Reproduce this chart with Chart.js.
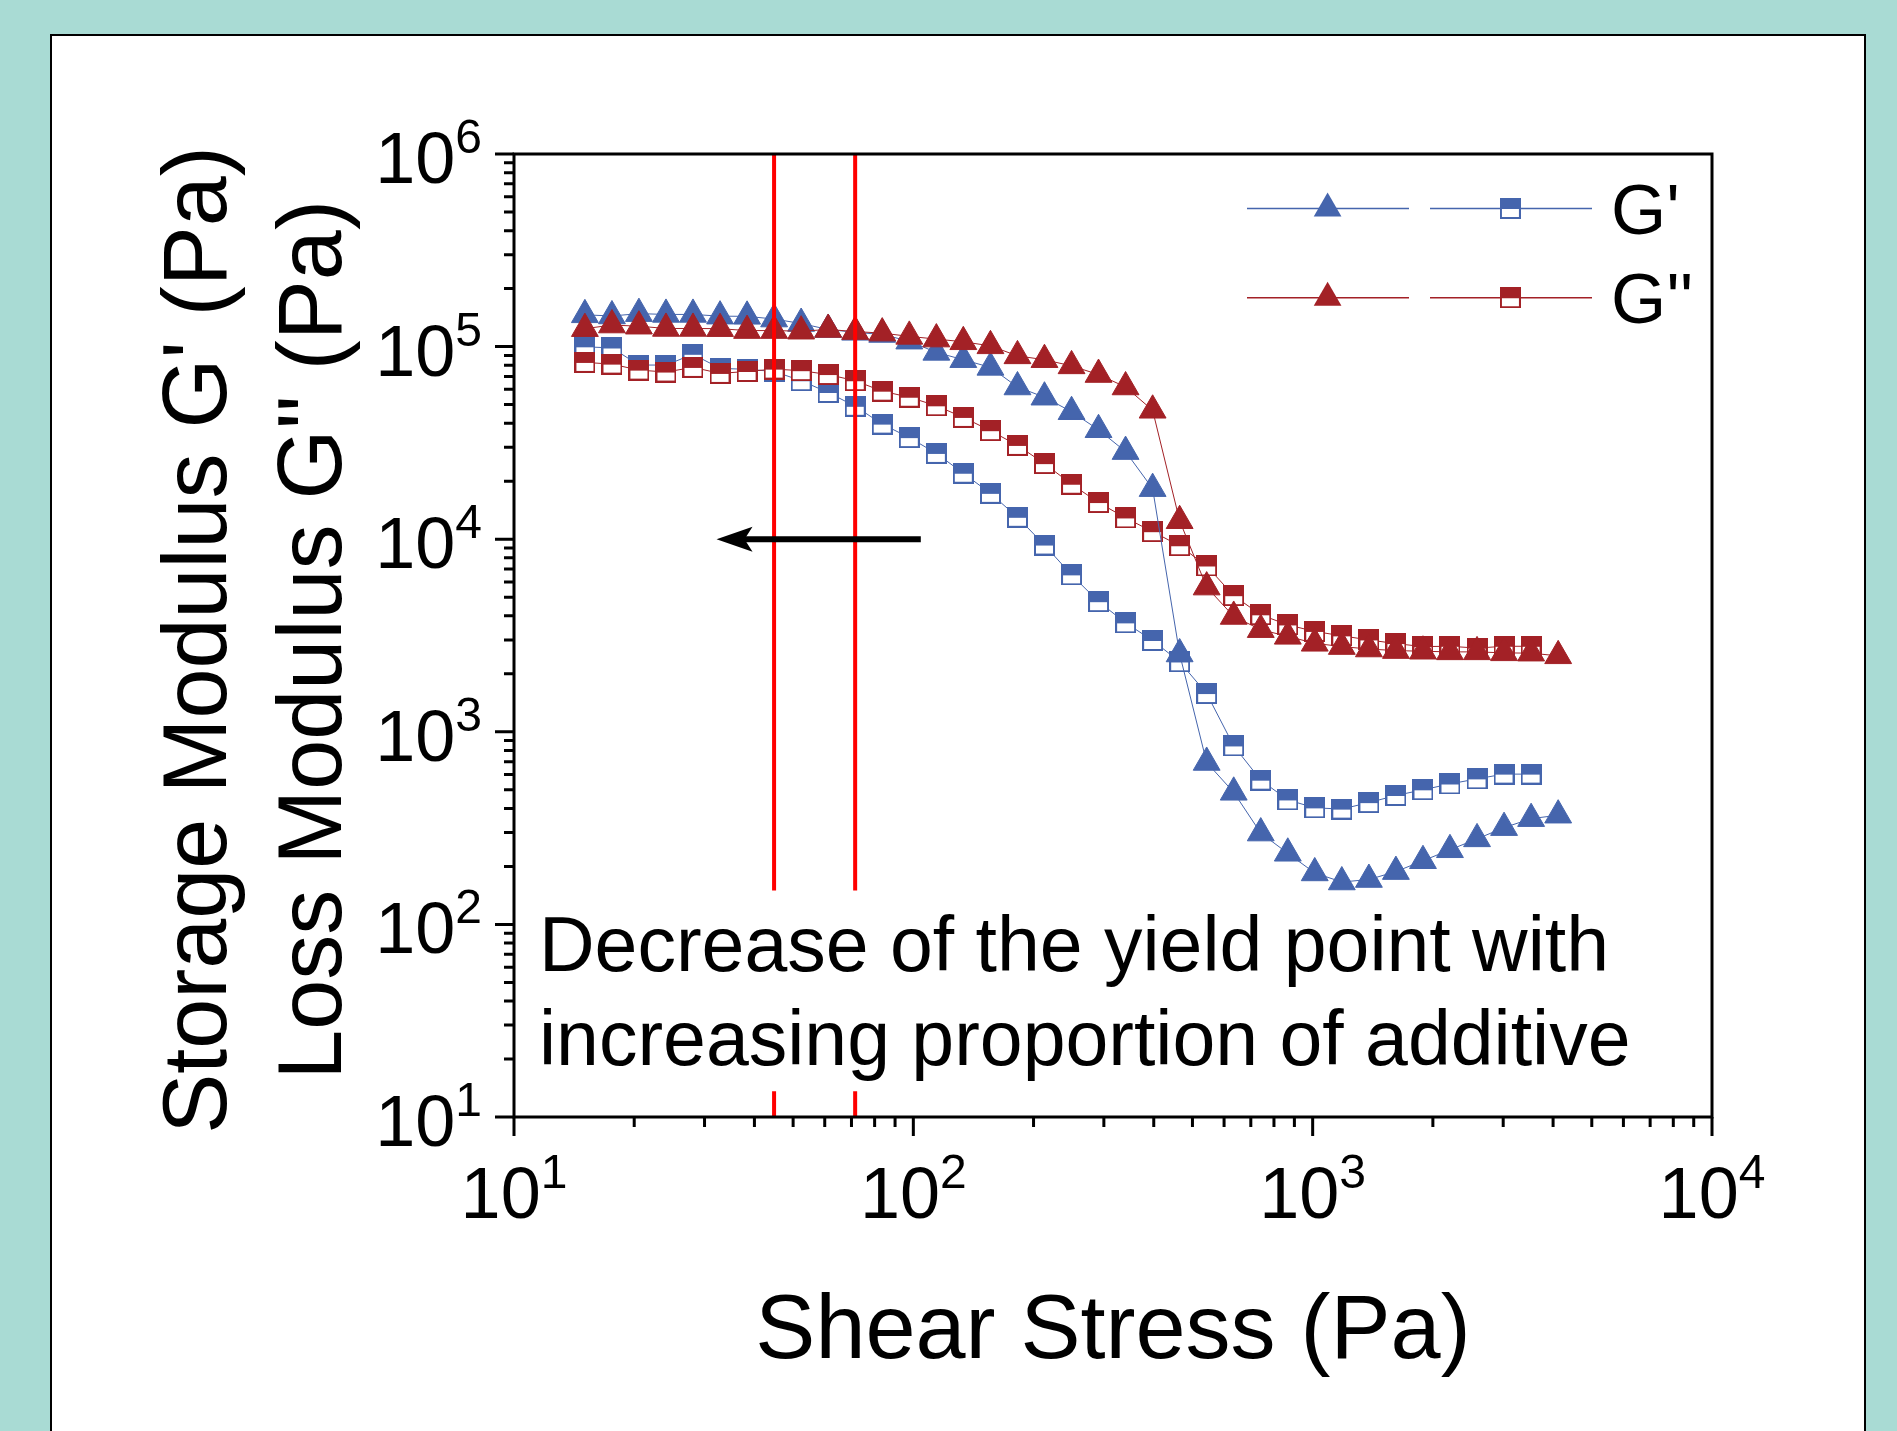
<!DOCTYPE html>
<html><head><meta charset="utf-8">
<script src="https://cdn.jsdelivr.net/npm/chart.js@4.4.1/dist/chart.umd.min.js"></script>
<style>html,body{margin:0;padding:0;background:#A9DBD4;overflow:hidden}canvas{display:block}</style>
</head><body>
<canvas id="c" width="1897" height="1431"></canvas>
<script>
// ---- data ----
const shearStress = [15.05, 17.59, 20.55, 24.02, 28.07, 32.81, 38.34, 44.81, 52.37, 61.2, 71.52, 83.58, 97.7, 114.2, 133.4, 156.0, 182.3, 213.0, 249.0, 290.9, 340.0, 397.4, 464.4, 542.7, 634.3, 741.3, 866.4, 1012, 1183, 1383, 1616, 1889, 2207, 2580, 3015, 3524, 4119];
// triangles (first sample)
const storageA = [146200, 144200, 148300, 146900, 146900, 143900, 143600, 139000, 131800, 122700, 118600, 115600, 106700, 93300, 85500, 78000, 61700, 54600, 45900, 37000, 28500, 18300, 2535, 693, 485, 298, 234, 185, 166, 171, 188, 214, 244, 278, 318, 354, 369];
const lossA = [123900, 129400, 127600, 124200, 124200, 123900, 121100, 121100, 120200, 122700, 119700, 117500, 113000, 109400, 105900, 100900, 89500, 85500, 79400, 71600, 61700, 46700, 12470, 5640, 3970, 3390, 3130, 2880, 2770, 2690, 2640, 2620, 2600, 2600, 2570, 2560, 2480];
// half-filled squares (second sample)
const storageB = [99800, 98400, 80200, 80200, 91200, 77100, 76200, 74300, 66500, 57800, 49000, 39600, 33700, 27900, 22000, 17300, 13000, 9330, 6530, 4740, 3680, 2980, 2310, 1580, 845, 561, 443, 403, 397, 429, 467, 500, 536, 570, 603, 603];
const lossB = [82800, 81100, 75500, 73800, 78000, 72600, 74300, 76400, 75000, 71600, 66500, 58700, 54600, 49300, 42900, 36600, 30700, 24700, 19300, 15500, 12900, 10940, 9250, 7260, 5090, 4050, 3590, 3320, 3150, 3000, 2870, 2770, 2780, 2720, 2780, 2780];
const xTickExps = [1, 2, 3, 4];
const yTickExps = [1, 2, 3, 4, 5, 6];
const yieldLines = [44.8, 71.5];
const yieldGapValues = [150, 13.6]; // lines interrupted by the text box between these values
const arrowTail = 104.4, arrowTip = 32.15, arrowLevel = 1e4;
const legendRows = [["G'", 'blue'], ["G''", 'red']];
const annotationLines = ['Decrease of the yield point with', 'increasing proportion of additive'];

const BLUE = '#4565AD', RED = '#A32126';
const FONT = '"Liberation Sans", Arial, sans-serif';

function squareImg(color) {
  const c = document.createElement('canvas');
  c.width = 21; c.height = 21;
  const g = c.getContext('2d');
  g.fillStyle = '#fff'; g.fillRect(0, 0, 21, 21);
  g.fillStyle = color; g.fillRect(0, 0, 21, 11);
  g.strokeStyle = color; g.lineWidth = 2; g.strokeRect(1, 1, 19, 19);
  return c;
}
const sqBlue = squareImg(BLUE), sqRed = squareImg(RED);

function pts(xs, ys) { return ys.map((v, i) => ({x: xs[i], y: v})); }

function triDs(data, color, order) {
  return {data: pts(shearStress, data), borderColor: color, borderWidth: 1, backgroundColor: color,
    pointStyle: 'triangle', pointRadius: 15.5, pointBorderWidth: 1, pointBackgroundColor: color,
    pointBorderColor: color, tension: 0, order: order, fill: false};
}
function sqDs(data, color, img, order) {
  return {data: pts(shearStress, data), borderColor: color, borderWidth: 1,
    pointStyle: img, pointRadius: 10, tension: 0, order: order, fill: false};
}

function drawPow(ctx, exp, x, baseY, align) {
  ctx.font = '72px ' + FONT;
  const w1 = ctx.measureText('10').width;
  ctx.font = '48px ' + FONT;
  const w2 = ctx.measureText(String(exp)).width;
  const total = w1 + w2;
  const sx = align === 'center' ? x - total / 2 : x - total;
  ctx.textAlign = 'left'; ctx.textBaseline = 'alphabetic'; ctx.fillStyle = '#000';
  ctx.font = '72px ' + FONT; ctx.fillText('10', sx, baseY);
  ctx.font = '48px ' + FONT; ctx.fillText(String(exp), sx + w1, baseY - 30);
}

const decor = {
  id: 'decor',
  beforeDraw(chart) {
    const ctx = chart.ctx;
    ctx.save();
    ctx.fillStyle = '#A9DBD4'; ctx.fillRect(0, 0, chart.width, chart.height);
    ctx.fillStyle = '#fff'; ctx.fillRect(50, 34, 1815, 1450);
    ctx.strokeStyle = '#000'; ctx.lineWidth = 2;
    ctx.beginPath(); ctx.moveTo(51, 1440); ctx.lineTo(51, 35); ctx.lineTo(1865, 35); ctx.lineTo(1865, 1440); ctx.stroke();
    ctx.restore();
  },
  afterDatasetsDraw(chart) {
    const ctx = chart.ctx, xs = chart.scales.x, ys = chart.scales.y, a = chart.chartArea;
    ctx.save();
    // yield lines
    ctx.strokeStyle = '#FF0000'; ctx.lineWidth = 4;
    yieldLines.forEach(v => {
      const px = xs.getPixelForValue(v);
      ctx.beginPath();
      ctx.moveTo(px, a.top); ctx.lineTo(px, ys.getPixelForValue(yieldGapValues[0]));
      ctx.moveTo(px, ys.getPixelForValue(yieldGapValues[1])); ctx.lineTo(px, a.bottom);
      ctx.stroke();
    });
    // arrow
    const ay = ys.getPixelForValue(arrowLevel), at = xs.getPixelForValue(arrowTip), atl = xs.getPixelForValue(arrowTail);
    ctx.strokeStyle = '#000'; ctx.fillStyle = '#000'; ctx.lineWidth = 6;
    ctx.beginPath(); ctx.moveTo(atl, ay); ctx.lineTo(at + 26, ay); ctx.stroke();
    ctx.beginPath(); ctx.moveTo(at, ay); ctx.lineTo(at + 36, ay - 12.5); ctx.lineTo(at + 28, ay);
    ctx.lineTo(at + 36, ay + 12.5); ctx.closePath(); ctx.fill();
    // frame
    ctx.lineWidth = 3; ctx.strokeStyle = '#000';
    ctx.strokeRect(a.left, a.top, a.right - a.left, a.bottom - a.top);
    // ticks
    ctx.lineWidth = 3;
    ctx.beginPath();
    for (let e = 1; e <= 4; e++) {
      for (let m = 1; m <= 9; m++) {
        const v = m * Math.pow(10, e);
        if (v > 10000) break;
        const px = xs.getPixelForValue(v);
        ctx.moveTo(px, a.bottom); ctx.lineTo(px, a.bottom + (m === 1 ? 19 : 10));
      }
    }
    for (let e = 1; e <= 6; e++) {
      for (let m = 1; m <= 9; m++) {
        const v = m * Math.pow(10, e);
        if (v > 1e6) break;
        const py = ys.getPixelForValue(v);
        ctx.moveTo(a.left, py); ctx.lineTo(a.left - (m === 1 ? 19 : 10), py);
      }
    }
    ctx.stroke();
    // tick labels
    xTickExps.forEach(e => drawPow(ctx, e, xs.getPixelForValue(Math.pow(10, e)), a.bottom + 101, 'center'));
    yTickExps.forEach(e => drawPow(ctx, e, 482, ys.getPixelForValue(Math.pow(10, e)) + 29, 'right'));
    // axis titles
    ctx.fillStyle = '#000'; ctx.font = '90px ' + FONT; ctx.textAlign = 'center'; ctx.textBaseline = 'alphabetic';
    ctx.fillText('Shear Stress (Pa)', (a.left + a.right) / 2, 1358);
    ctx.save(); ctx.translate(226, 640); ctx.rotate(-Math.PI / 2); ctx.fillText("Storage Modulus G' (Pa)", 0, 0); ctx.restore();
    ctx.save(); ctx.translate(341, 640); ctx.rotate(-Math.PI / 2); ctx.fillText("Loss Modulus G'' (Pa)", 0, 0); ctx.restore();
    // annotation
    ctx.font = '77px ' + FONT; ctx.textAlign = 'left';
    ctx.fillText(annotationLines[0], 539, 971);
    ctx.fillText(annotationLines[1], 539, 1065);
    // legend
    const rowsY = [208.5, 297.7];
    legendRows.forEach((r, i) => {
      const col = r[1] === 'blue' ? BLUE : RED;
      const y = rowsY[i];
      ctx.strokeStyle = col; ctx.lineWidth = 1.5;
      ctx.beginPath(); ctx.moveTo(1247, y); ctx.lineTo(1409, y); ctx.moveTo(1430, y); ctx.lineTo(1592, y); ctx.stroke();
      const cx = 1327.6, rr = 16;
      ctx.fillStyle = col;
      ctx.beginPath(); ctx.moveTo(cx, y - rr); ctx.lineTo(cx + rr * 0.866, y + rr / 2); ctx.lineTo(cx - rr * 0.866, y + rr / 2); ctx.closePath(); ctx.fill();
      ctx.drawImage(r[1] === 'blue' ? sqBlue : sqRed, 1510.4 - 10.5, y - 10.5);
      ctx.fillStyle = '#000'; ctx.font = '71px ' + FONT; ctx.textAlign = 'left';
      ctx.fillText(r[0], 1611, i === 0 ? 234 : 323);
    });
    ctx.restore();
  }
};

new Chart(document.getElementById('c'), {
  type: 'line',
  data: {datasets: [
    triDs(lossA, RED, 0),
    triDs(storageA, BLUE, 1),
    sqDs(lossB, RED, sqRed, 2),
    sqDs(storageB, BLUE, sqBlue, 3)
  ]},
  options: {
    responsive: false, animation: false, devicePixelRatio: 1,
    layout: {padding: {left: 514, right: 185, top: 154, bottom: 314}},
    scales: {
      x: {type: 'logarithmic', min: 10, max: 10000, display: false},
      y: {type: 'logarithmic', min: 10, max: 1e6, display: false}
    },
    plugins: {legend: {display: false}, tooltip: {enabled: false}},
    events: []
  },
  plugins: [decor]
});
</script>
</body></html>
